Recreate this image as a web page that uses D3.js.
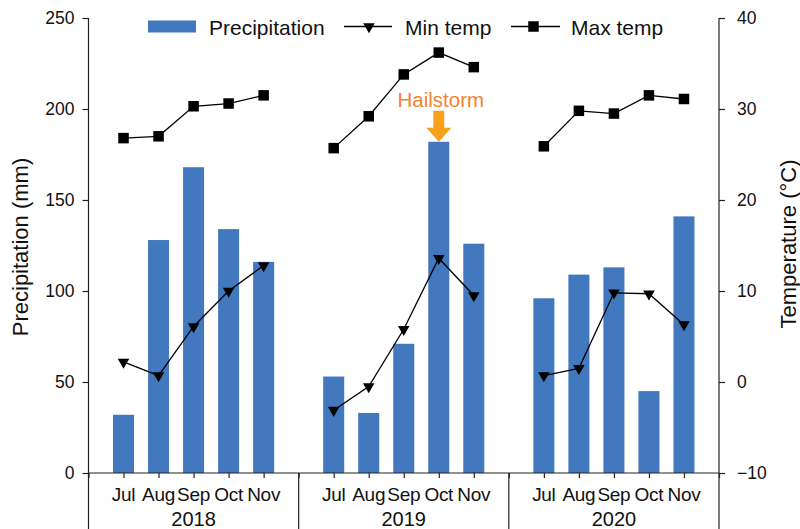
<!DOCTYPE html>
<html>
<head>
    <meta charset="utf-8" />
    <title>Precipitation and temperature</title>
    <style>
        body { margin: 0; background: #fff; }
        svg text { font-family: "Liberation Sans", Arial, sans-serif; fill: #111; }
    </style>
</head>
<body>
    <svg id="chart" width="800" height="529"></svg>
    <script src="https://cdn.jsdelivr.net/npm/d3@7/dist/d3.min.js"></script>
    <script>
        // data
        var years = ["2018", "2019", "2020"];
        var months = ["Jul", "Aug", "Sep", "Oct", "Nov"];
        var precipitation = [32, 128, 168, 134, 116, 53, 33, 71, 182, 126, 96, 109, 113, 45, 141];
        var minTemp = [2.2, 0.7, 6.1, 10.0, 12.8, -3.1, -0.5, 5.8, 13.6, 9.5, 0.7, 1.5, 9.8, 9.7, 6.3];
        var maxTemp = [26.8, 27.0, 30.3, 30.6, 31.5, 25.7, 29.2, 33.8, 36.2, 34.6, 25.9, 29.8, 29.5, 31.5, 31.1];
        var precipTicks = [0, 50, 100, 150, 200, 250];
        var tempTicks = [-10, 0, 10, 20, 30, 40];
        var hailstorm = { year: "2019", month: "Oct" };

        var svg = d3.select("#chart");
        // note: "top" is taken by window.top, so plot edges get their own names
        var plotLeft = 88.5, plotRight = 719, plotTop = 18, plotBottom = 473;
        var barColor = "#4178be";

        // slots: one empty slot at each end and between years
        var slots = ["start"];
        years.forEach(function(y, i) {
            months.forEach(function(m) { slots.push(y + "-" + m); });
            slots.push(i < years.length - 1 ? "gap" + i : "end");
        });

        var x = d3.scalePoint().domain(slots).range([plotLeft, plotRight]);
        var step = x.step();
        var yP = d3.scaleLinear().domain([0, 250]).range([plotBottom, plotTop]);
        var yT = d3.scaleLinear().domain([-10, 40]).range([plotBottom, plotTop]);

        var rows = [];
        years.forEach(function(y, yi) {
            months.forEach(function(m, mi) {
                var k = yi * months.length + mi;
                rows.push({ year: y, month: m, key: y + "-" + m, p: precipitation[k], tmin: minTemp[k], tmax: maxTemp[k] });
            });
        });

        // bars
        var barW = step * 0.6;
        svg.append("g").selectAll("rect")
            .data(rows)
            .enter()
            .append("rect")
            .attr("x", function(d) { return x(d.key) - barW / 2; })
            .attr("y", function(d) { return yP(d.p); })
            .attr("width", barW)
            .attr("height", function(d) { return yP(0) - yP(d.p); })
            .attr("fill", barColor);

        // temperature lines, one piece per year
        var line = function(acc) {
            return d3.line().x(function(d) { return x(d.key); }).y(function(d) { return yT(acc(d)); });
        };
        var tri = d3.symbol().type(d3.symbolTriangle).size(58);
        var sq = 10.5;
        years.forEach(function(y) {
            var part = rows.filter(function(d) { return d.year === y; });
            svg.append("path").datum(part)
                .attr("d", line(function(d) { return d.tmax; }))
                .attr("fill", "none").attr("stroke", "#000").attr("stroke-width", 1.3);
            svg.append("path").datum(part)
                .attr("d", line(function(d) { return d.tmin; }))
                .attr("fill", "none").attr("stroke", "#000").attr("stroke-width", 1.3);
        });
        svg.append("g").selectAll("rect")
            .data(rows)
            .enter()
            .append("rect")
            .attr("x", function(d) { return x(d.key) - sq / 2; })
            .attr("y", function(d) { return yT(d.tmax) - sq / 2; })
            .attr("width", sq).attr("height", sq)
            .attr("fill", "#000");
        svg.append("g").selectAll("path")
            .data(rows)
            .enter()
            .append("path")
            .attr("d", tri)
            .attr("transform", function(d) { return "translate(" + x(d.key) + "," + yT(d.tmin) + ") rotate(180)"; })
            .attr("fill", "#000");

        // axes
        var axisL = svg.append("g").attr("transform", "translate(" + plotLeft + ",0)")
            .call(d3.axisLeft(yP).tickValues(precipTicks).tickSize(6).tickPadding(8));
        var axisR = svg.append("g").attr("transform", "translate(" + plotRight + ",0)")
            .call(d3.axisRight(yT).tickValues(tempTicks).tickSize(6).tickPadding(12));
        [axisL, axisR].forEach(function(a) {
            a.select(".domain").remove();
            a.selectAll("line").attr("stroke", "#222").attr("stroke-width", 1.2);
            a.selectAll("text").style("font-size", "17.5px").attr("fill", "#111")
                .style("font-family", "Liberation Sans, Arial, sans-serif");
        });
        // vertical axis lines run down through the category area
        svg.append("line").attr("x1", plotLeft).attr("x2", plotLeft).attr("y1", plotTop).attr("y2", 529)
            .attr("stroke", "#222").attr("stroke-width", 1.2);
        svg.append("line").attr("x1", plotRight).attr("x2", plotRight).attr("y1", plotTop).attr("y2", 529)
            .attr("stroke", "#222").attr("stroke-width", 1.2);

        // bottom category axis
        var axisB = svg.append("g").attr("transform", "translate(0," + plotBottom + ")")
            .call(d3.axisBottom(x).tickSize(5).tickFormat(""));
        axisB.select(".domain").attr("stroke", "#222").attr("stroke-width", 1.2)
            .attr("d", "M" + plotLeft + ",0H" + plotRight);
        axisB.selectAll("line").attr("stroke", "#222").attr("stroke-width", 1.2);

        svg.append("g").selectAll("text")
            .data(rows)
            .enter()
            .append("text")
            .attr("x", function(d) { return x(d.key); })
            .attr("y", 501)
            .attr("text-anchor", "middle")
            .style("font-size", "19px")
            .style("letter-spacing", "-0.3px")
            .text(function(d) { return d.month; });

        // year separators and labels
        svg.append("g").selectAll("line")
            .data(["gap0", "gap1"])
            .enter()
            .append("line")
            .attr("x1", function(d) { return x(d); })
            .attr("x2", function(d) { return x(d); })
            .attr("y1", plotBottom).attr("y2", 529)
            .attr("stroke", "#222").attr("stroke-width", 1.2);
        svg.append("g").selectAll("text")
            .data(years)
            .enter()
            .append("text")
            .attr("x", function(y) { return x(y + "-Sep"); })
            .attr("y", 526)
            .attr("text-anchor", "middle")
            .style("font-size", "20px")
            .text(function(y) { return y; });

        // axis titles
        svg.append("text")
            .attr("transform", "translate(28,247) rotate(-90)")
            .attr("text-anchor", "middle")
            .style("font-size", "22px")
            .text("Precipitation (mm)");
        svg.append("text")
            .attr("transform", "translate(796,244) rotate(-90)")
            .attr("text-anchor", "middle")
            .style("font-size", "22px")
            .text("Temperature (°C)");

        // hailstorm annotation
        var hx = x(hailstorm.year + "-" + hailstorm.month);
        var hTop = yP(precipitation[years.indexOf(hailstorm.year) * months.length + months.indexOf(hailstorm.month)]);
        svg.append("path")
            .attr("d", "M" + (hx - 5.5) + "," + (hTop - 31) + "H" + (hx + 5.5) + "V" + (hTop - 14) +
                "H" + (hx + 12.5) + "L" + hx + "," + hTop + "L" + (hx - 12.5) + "," + (hTop - 14) +
                "H" + (hx - 5.5) + "Z")
            .attr("fill", "#f7a21c");
        svg.append("text")
            .attr("x", hx + 2).attr("y", hTop - 35)
            .attr("text-anchor", "middle")
            .style("font-size", "20.5px")
            .style("fill", "#f5822f")
            .text("Hailstorm");

        // legend
        var lg = svg.append("g").style("font-size", "21px");
        lg.append("rect").attr("x", 148).attr("y", 20.5).attr("width", 48).attr("height", 12).attr("fill", barColor);
        lg.append("text").attr("x", 209).attr("y", 35).text("Precipitation");
        lg.append("line").attr("x1", 344).attr("x2", 392).attr("y1", 26.5).attr("y2", 26.5)
            .attr("stroke", "#000").attr("stroke-width", 1.3);
        lg.append("path").attr("d", tri).attr("transform", "translate(369,26.5) rotate(180)").attr("fill", "#000");
        lg.append("text").attr("x", 405).attr("y", 35).text("Min temp");
        lg.append("line").attr("x1", 511).attr("x2", 560).attr("y1", 26.5).attr("y2", 26.5)
            .attr("stroke", "#000").attr("stroke-width", 1.3);
        lg.append("rect").attr("x", 533.5 - sq / 2).attr("y", 26.5 - sq / 2).attr("width", sq).attr("height", sq).attr("fill", "#000");
        lg.append("text").attr("x", 571).attr("y", 35).text("Max temp");
    </script>
</body>
</html>
